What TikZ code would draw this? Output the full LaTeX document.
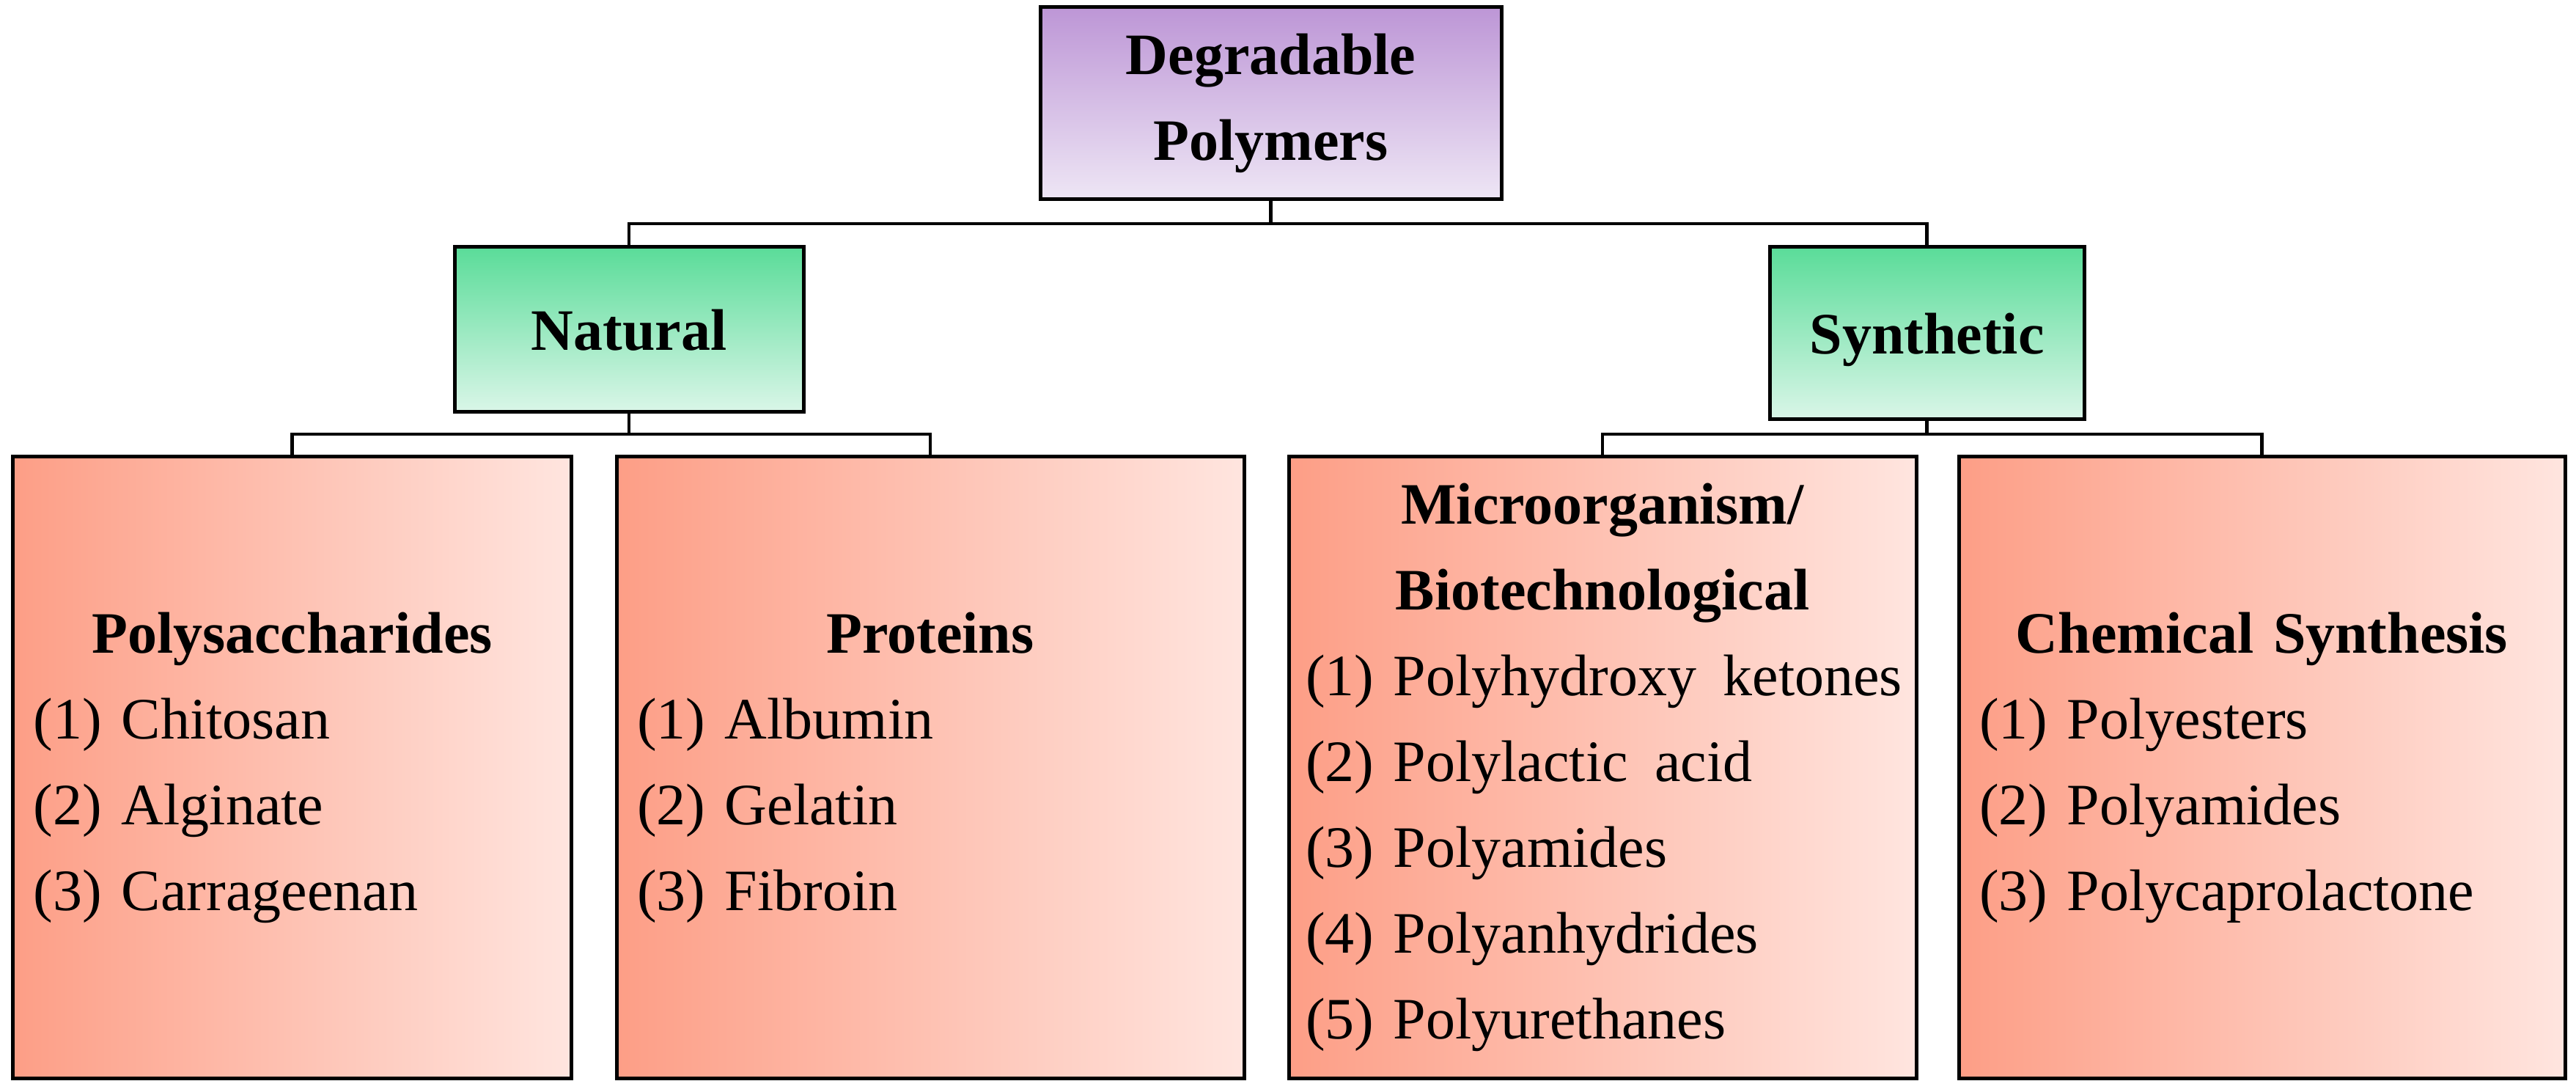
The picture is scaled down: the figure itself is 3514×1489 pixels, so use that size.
\documentclass[tikz,border=0pt]{standalone}
\usepackage{fontspec}
\setmainfont{Liberation Serif}
\usetikzlibrary{positioning}
\definecolor{lilacTop}{HTML}{BD96D6}
\definecolor{lilacBot}{HTML}{EEE6F5}
\definecolor{mintTop}{HTML}{5ADC99}
\definecolor{mintBot}{HTML}{DAF6E8}
\definecolor{salmonL}{HTML}{FD9E86}
\definecolor{salmonR}{HTML}{FFE5DF}
\newcommand{\boxhead}[1]{\makebox[\linewidth][c]{\bfseries #1}}
\newcommand{\entry}[1]{\mbox{#1}}

\begin{document}
\begin{tikzpicture}[x=0.2pt, y=-0.2pt,
  box/.style={rectangle, draw=black, line width=1pt, inner sep=0pt,
    font=\fontsize{16}{23.4}\selectfont},
  rootbox/.style={box, top color=lilacTop, bottom color=lilacBot,
    minimum width=125.8pt, minimum height=52.4pt, align=center,
    font=\bfseries\fontsize{16}{23.4}\selectfont},
  kindbox/.style={box, top color=mintTop, bottom color=mintBot,
    text depth=0pt, font=\bfseries\fontsize{16}{19}\selectfont},
  classbox/.style={box, left color=salmonL, right color=salmonR,
    minimum height=169.4pt, align=left},
  link/.style={draw=black, line width=0.9pt}]
  \useasboundingbox (0,0) rectangle (3514,1489);

  % top level
  \node[rootbox] (root) at (1733.5,141) {\raisebox{-1.5pt}{Degradable}\\\raisebox{-1.5pt}{Polymers}};

  % natural / synthetic
  \node[kindbox, minimum width=95.2pt, minimum height=45pt] (natural) at (858,449.5) {Natural};
  \node[kindbox, minimum width=85.8pt, minimum height=47pt] (synthetic) at (2628.5,454.5) {Synthetic};

  % classes
  \node[classbox, minimum width=152.2pt, text width=141pt] (poly) at (398.5,1046.5)
    {\boxhead{Polysaccharides}\\\entry{(1) Chitosan}\\\entry{(2) Alginate}\\\entry{(3) Carrageenan}};
  \node[classbox, minimum width=171.2pt, text width=160pt] (prot) at (1269,1046.5)
    {\boxhead{Proteins}\\\entry{(1) Albumin}\\\entry{(2) Gelatin}\\\entry{(3) Fibroin}};
  \node[classbox, minimum width=171.2pt, text width=162pt] (micro) at (2186,1046.5)
    {\boxhead{Microorganism/}\\\boxhead{Biotechnological}\\
     \entry{(1) Polyhydroxy\kern0.12em\ ketones}\\\entry{(2) Polylactic\kern0.12em\ acid}\\
     \entry{(3) Polyamides}\\\entry{(4) Polyanhydrides}\\\entry{(5) Polyurethanes}};
  \node[classbox, minimum width=165.4pt, text width=154.2pt] (chem) at (3085.5,1046.5)
    {\boxhead{Chemical Synthesis}\\\entry{(1) Polyesters}\\\entry{(2) Polyamides}\\\entry{(3) Polycaprolactone}};

  % connectors
  \coordinate (rootbus) at (1733.5,305);
  \coordinate (natbus) at (858,592);
  \coordinate (synbus) at (2628.5,592);
  \draw[link] (root.south) -- (rootbus);
  \draw[link] (natural.north) |- (rootbus) -| (synthetic.north);
  \draw[link] (natural.south) -- (natbus);
  \draw[link] (poly.north) |- (natbus) -| (prot.north);
  \draw[link] (synthetic.south) -- (synbus);
  \draw[link] (micro.north) |- (synbus) -| (chem.north);
\end{tikzpicture}
\end{document}
